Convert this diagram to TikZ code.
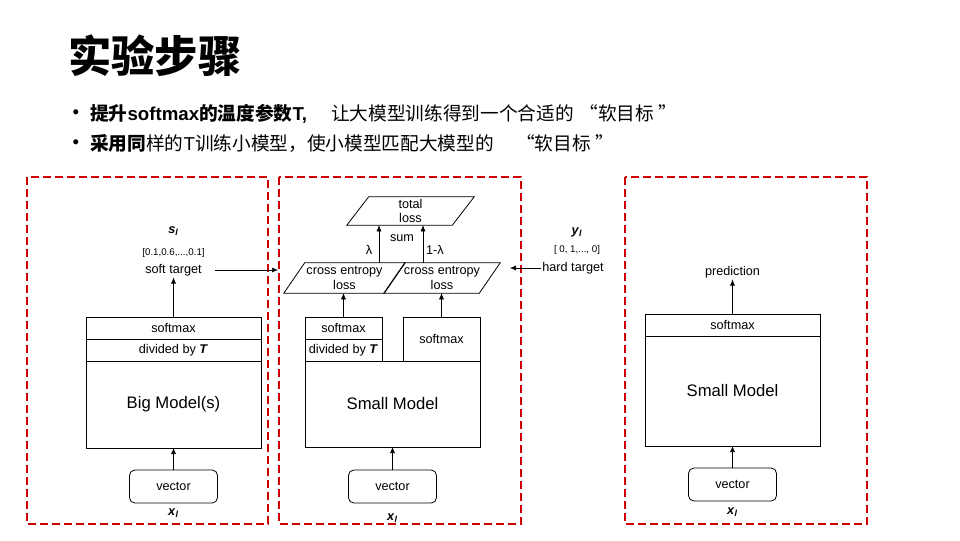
\documentclass[tikz,border=0pt]{standalone}
\usepackage{fontspec}
\setmainfont{Liberation Sans}
\newfontfamily\cjk{Noto Sans CJK SC}
\usetikzlibrary{calc, positioning, arrows.meta}

\newcommand{\bien}[2]{\textbf{\textit{#1}}\textsubscript{\textbf{\textit{#2}}}}

\begin{document}
\begin{tikzpicture}[>={Latex[length=4.5pt, width=3.75pt]}, x=0.75pt, y=-0.75pt,
    khung/.style={draw=red!80!black, line width=1.5pt, dash pattern=on 6pt off 3pt},
    lop/.style={draw, line width=0.6pt, inner sep=0pt, outer sep=0pt,
        minimum width=131.25pt, minimum height=16.5pt, font=\fontsize{9.5}{11}\selectfont},
    than/.style={lop, font=\fontsize{12.5}{14}\selectfont},
    vec/.style={draw, line width=0.6pt, rounded corners=4pt, minimum width=66pt,
        minimum height=24.75pt, font=\fontsize{9.5}{11}\selectfont},
    chu/.style={inner sep=1pt, font=\fontsize{9.5}{11}\selectfont, align=center},
    nho/.style={inner sep=1pt, font=\fontsize{7.3}{9}\selectfont}]
    \useasboundingbox (0,0) rectangle (960,540);

    % Tiêu đề và hai dòng chữ
    \node[anchor=west, inner sep=0pt, font=\cjk\bfseries\fontsize{32.5}{34}\selectfont] (tieude) at (68,56) {实验步骤};
    \node[inner sep=0pt, font=\fontsize{14}{16}\selectfont] (cham1) at (76,114) {•};
    \node[inner sep=0pt, font=\fontsize{14}{16}\selectfont] (cham2) at (76,144) {•};
    \node[anchor=west, inner sep=0pt, font=\fontsize{14}{16}\selectfont] (dong1) at (90,114)
        {{\cjk\bfseries 提升}\textbf{softmax}{\cjk\bfseries 的温度参数}\textbf{T,}\hspace{1.3em}{\cjk 让大模型训练得到一个合适的\hspace{0.3em}“软目标\hspace{0.25em}”}};
    \node[anchor=west, inner sep=0pt, font=\fontsize{14}{16}\selectfont] (dong2) at (90,144)
        {{\cjk\bfseries 采用同}{\cjk 样的}T{\cjk 训练小模型，使小模型匹配大模型的\hspace{1.2em}“软目标\hspace{0.25em}”}};

    % Ba khung nét đứt
    \draw[khung] (27,177) rectangle (268,524);
    \draw[khung] (279,177) rectangle (521,524);
    \draw[khung] (625,177) rectangle (867,524);

    % Khung trái: mô hình lớn
    \node[lop] (smA) at (173.5,328) {softmax};
    \node[lop, below=0pt of smA] (divA) {divided by \textbf{\textit{T}}};
    \node[than, minimum height=65.25pt, below=0pt of divA] (bigA) {Big Model(s)};
    \node[vec] (vecA) at (173.5,486.5) {vector};
    \node[chu] (xA) at (173.5,513) {\bien{x}{l}};
    \node[chu] (stA) at (173.5,270) {soft target};
    \node[nho] (vaA) at (173.5,253) {[0.1,0.6,...,0.1]};
    \node[chu] (sA) at (173.5,231) {\bien{s}{l}};
    \draw[->] (vecA.north) -- (bigA.south);
    \draw[->] (smA.north) -- (stA.south);

    % Khung giữa: mô hình nhỏ khi huấn luyện
    \node[lop, minimum width=57.75pt] (smB) at (343.5,328) {softmax};
    \node[lop, minimum width=57.75pt, below=0pt of smB] (divB) {divided by \textbf{\textit{T}}};
    \node[lop, minimum width=57.75pt, minimum height=33pt] (smC) at (441.5,339) {softmax};
    \node[than, minimum height=64.5pt] (smallB) at (392.5,404) {Small Model};
    \node[vec] (vecB) at (392.5,486.5) {vector};
    \node[chu] (xB) at (392.5,518) {\bien{x}{l}};
    \draw[->] (vecB.north) -- (smallB.south);

    \node[chu, inner sep=0pt, minimum width=90.75pt, minimum height=22.5pt] (ceL) at (344.5,278) {cross entropy\\loss};
    \node[chu, inner sep=0pt, minimum width=87pt, minimum height=22.5pt] (ceR) at (442,278) {cross entropy\\loss};
    \node[chu, inner sep=0pt, minimum width=95.25pt, minimum height=21pt] (tl) at (410.5,211) {total\\loss};
    \draw[line width=0.6pt] (ceL.south west) -- ($(ceL.south east)+(-21,0)$) -- (ceL.north east) -- ($(ceL.north west)+(21,0)$) -- cycle;
    \draw[line width=0.6pt] (ceR.south west) -- ($(ceR.south east)+(-21,0)$) -- (ceR.north east) -- ($(ceR.north west)+(21,0)$) -- cycle;
    \draw[line width=0.6pt] (tl.south west) -- ($(tl.south east)+(-22,0)$) -- (tl.north east) -- ($(tl.north west)+(22,0)$) -- cycle;

    \node[chu] (sum) at (402,238) {sum};
    \node[chu] (lam) at (369,250) {λ};
    \node[chu] (lam1) at (435,250) {1-λ};
    \coordinate (lamL) at (379,0);
    \coordinate (lamR) at (423,0);
    \draw[->] (ceL.north -| lamL) -- (tl.south -| lamL);
    \draw[->] (ceR.north -| lamR) -- (tl.south -| lamR);
    \draw[->] (smB.north) -- (smB.north |- ceL.south);
    \draw[->] (smC.north) -- (smC.north |- ceR.south);

    % Nhãn cứng
    \node[chu] (yC) at (577,232) {\bien{y}{l}};
    \node[nho] (vaC) at (577,250) {[ 0, 1,..., 0]};
    \node[chu] (htC) at (573,268) {hard target};

    \coordinate (softin) at (278,270);
    \coordinate (hardin) at (510,268);
    \draw[->] (stA.east) ++(12,0) -- (softin);
    \draw[->] (htC.west) -- (hardin);

    % Khung phải: dự đoán
    \node[lop] (smD) at (732.5,325) {softmax};
    \node[than, minimum height=82.5pt, below=0pt of smD] (smallD) {Small Model};
    \node[vec] (vecD) at (732.5,484.5) {vector};
    \node[chu] (xD) at (732.5,512) {\bien{x}{l}};
    \node[chu] (predD) at (732.5,272) {prediction};
    \draw[->] (vecD.north) -- (smallD.south);
    \draw[->] (smD.north) -- (predD.south);
\end{tikzpicture}
\end{document}
